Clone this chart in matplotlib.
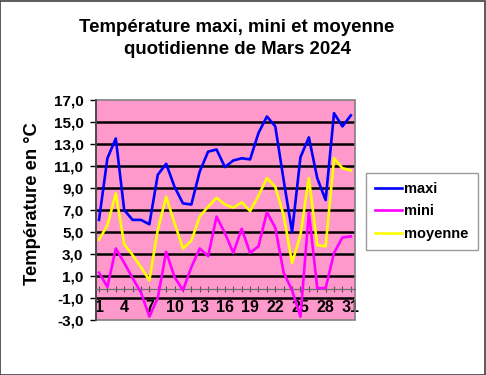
import matplotlib.pyplot as plt
import matplotlib.ticker as mticker
from matplotlib.patches import Rectangle

plt.rcParams['font.family'] = ['Liberation Sans', 'DejaVu Sans']
plt.rcParams['font.weight'] = 'bold'

days = list(range(1, 32))
maxi = [6.1, 11.7, 13.5, 7.0, 6.1, 6.1, 5.7, 10.2, 11.2, 9.1, 7.6, 7.5, 10.5, 12.3, 12.5, 10.9,
        11.5, 11.7, 11.6, 14.0, 15.5, 14.6, 9.7, 5.0, 11.8, 13.6, 9.9, 7.9, 15.8, 14.6, 15.6]
mini = [1.3, 0.0, 3.5, 2.2, 0.8, -0.5, -2.7, -1.0, 3.2, 0.9, -0.3, 1.8, 3.5, 2.8, 6.4, 4.9,
        3.1, 5.3, 3.1, 3.7, 6.8, 5.4, 1.3, -0.3, -2.7, 6.8, -0.1, -0.1, 3.1, 4.5, 4.6]
moyenne = [4.3, 5.6, 8.5, 3.9, 2.9, 1.8, 0.6, 5.2, 8.2, 5.8, 3.5, 4.2, 6.4, 7.3, 8.1, 7.5,
           7.2, 7.7, 6.9, 8.3, 9.9, 9.1, 6.5, 2.2, 4.7, 9.9, 3.8, 3.7, 11.7, 10.8, 10.6]
y_ticks = [17, 15, 13, 11, 9, 7, 5, 3, 1, -1, -3]
x_labels = [1, 4, 7, 10, 13, 16, 19, 22, 25, 28, 31]

fig = plt.figure(figsize=(4.86, 3.75), dpi=100)
fig.patches.append(Rectangle((0.001, 0.001), 0.997, 0.996, transform=fig.transFigure,
                             fill=False, edgecolor='#404040', linewidth=1.2))

ax = fig.add_axes([0.1975, 0.1467, 0.533, 0.5867])
ax.set_facecolor('#FF99CC')
ax.set_xlim(0.64, 31.5)
ax.set_ylim(-3, 17)

for v in y_ticks[1:-1]:
    ax.axhline(v, color='black', linewidth=1.8, zorder=1)

ax.plot(days, maxi, color='#0000FF', linewidth=1.9, label='maxi', zorder=3)
ax.plot(days, mini, color='#FF00FF', linewidth=1.9, label='mini', zorder=3)
ax.plot(days, moyenne, color='#FFFF00', linewidth=1.9, label='moyenne', zorder=3)

# plot area border
ax.add_patch(Rectangle((0, 0), 1, 1, transform=ax.transAxes, fill=False,
                       edgecolor='#808080', linewidth=1.2, zorder=2, clip_on=False))

for s in ['top', 'right']:
    ax.spines[s].set_visible(False)
ax.spines['left'].set_color('#404040')
ax.spines['left'].set_linewidth(1.2)
ax.spines['bottom'].set_position(('data', -0.15))
ax.spines['bottom'].set_color('#707070')
ax.spines['bottom'].set_linewidth(0.9)

ax.set_yticks(y_ticks)
ax.yaxis.set_major_formatter(mticker.FuncFormatter(lambda v, p: f'{v:.1f}'.replace('.', ',')))
ax.tick_params(axis='y', direction='out', length=4, width=1, labelsize=11, pad=5)

ax.set_xticks(x_labels)
ax.set_xticklabels([str(d) for d in x_labels])
ax.set_xticks(days, minor=True)
ax.tick_params(axis='x', which='both', direction='inout', length=4, width=0.8,
               color='#505050', labelsize=11.5, pad=6)

for lab in ax.get_xticklabels() + ax.get_yticklabels():
    lab.set_fontweight('bold')
    lab.set_zorder(5)

ax.set_ylabel('Température en °C', fontsize=13.3, fontweight='bold')
ax.yaxis.set_label_coords(-0.212, 0.527)

fig.text(0.488, 0.928, 'Température maxi, mini et moyenne', ha='center', va='center',
         fontsize=13.4, fontweight='bold')
fig.text(0.488, 0.867, 'quotidienne de Mars 2024', ha='center', va='center',
         fontsize=13.4, fontweight='bold')

leg = fig.legend(loc='upper left', bbox_to_anchor=(0.753, 0.341, 0.230, 0.198),
                 mode='expand', borderaxespad=0,
                 frameon=True, fancybox=False, handlelength=1.85, handletextpad=0.15,
                 labelspacing=0.6, borderpad=0.6, prop={'weight': 'bold', 'size': 10.5})
leg.get_frame().set_edgecolor('#808080')
leg.get_frame().set_linewidth(1)

fig.savefig('out.png', dpi=100)
